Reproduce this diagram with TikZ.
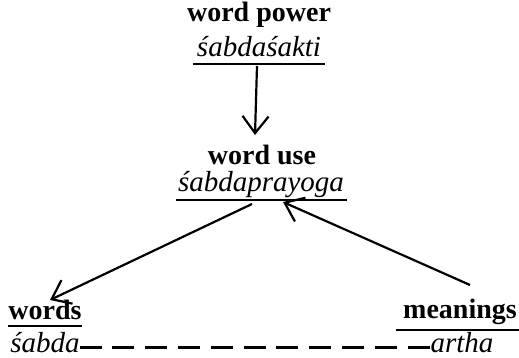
\documentclass[tikz,border=0pt]{standalone}
\usepackage{fontspec}
\setmainfont{Liberation Serif}
\usetikzlibrary{arrows.meta}
\begin{document}
\begin{tikzpicture}[x=1pt,y=-1pt,
  every node/.style={inner sep=0pt,outer sep=0pt,anchor=base},
  term/.style={font=\fontsize{28}{30}\selectfont\bfseries},
  skt/.style={font=\fontsize{29}{31}\selectfont\itshape},
  uline/.style={line width=2.4pt},
  arr/.style={line width=2.2pt,-{Straight Barb[length=17pt,width=26pt]}},
  dashline/.style={line width=2.2pt,dash pattern=on 22pt off 10.8pt}]
\useasboundingbox (0,0) rectangle (519,358);

% top concept
\node[term] (wp) at (259,22) {word power};
\node[skt] (wps) at (259,57) {śabdaśakti};
\draw[uline] ([xshift=-4pt,yshift=-7pt]wps.base west) -- ([xshift=4pt,yshift=-7pt]wps.base east);

% middle concept
\node[term] (wu) at (262,165) {word use};
\node[skt] (wus) at (261,192) {śabdaprayoga};
\draw[uline] ([xshift=-2pt,yshift=-8pt]wus.base west) -- ([xshift=3pt,yshift=-8pt]wus.base east);

% bottom pair
\node[term] (wd) at (45,319) {words};
\draw[uline] ([yshift=-7pt]wd.base west) -- ([yshift=-7pt]wd.base east);
\node[skt] (sb) at (45,352) {śabda};

\node[term] (mn) at (460,318) {meanings};
\draw[uline] ([xshift=-7pt,yshift=-12pt]mn.base west) -- ([xshift=4pt,yshift=-12pt]mn.base east);
\node[skt] (ar) at (462,352) {artha};

% connectors
\coordinate (t1) at (257,66);
\coordinate (h1) at (255,135);
\draw[arr] (t1) -- (h1);

\coordinate (l0) at (252,204);
\coordinate (l1) at (50,300);
\draw[arr] (l0) -- (l1);

\coordinate (r0) at (470,285);
\coordinate (r1) at (283,202);
\draw[arr] (r0) -- (r1);

\draw[dashline] ([yshift=4.5pt]sb.base east) -- ([yshift=4.5pt]ar.base west);
\end{tikzpicture}
\end{document}
